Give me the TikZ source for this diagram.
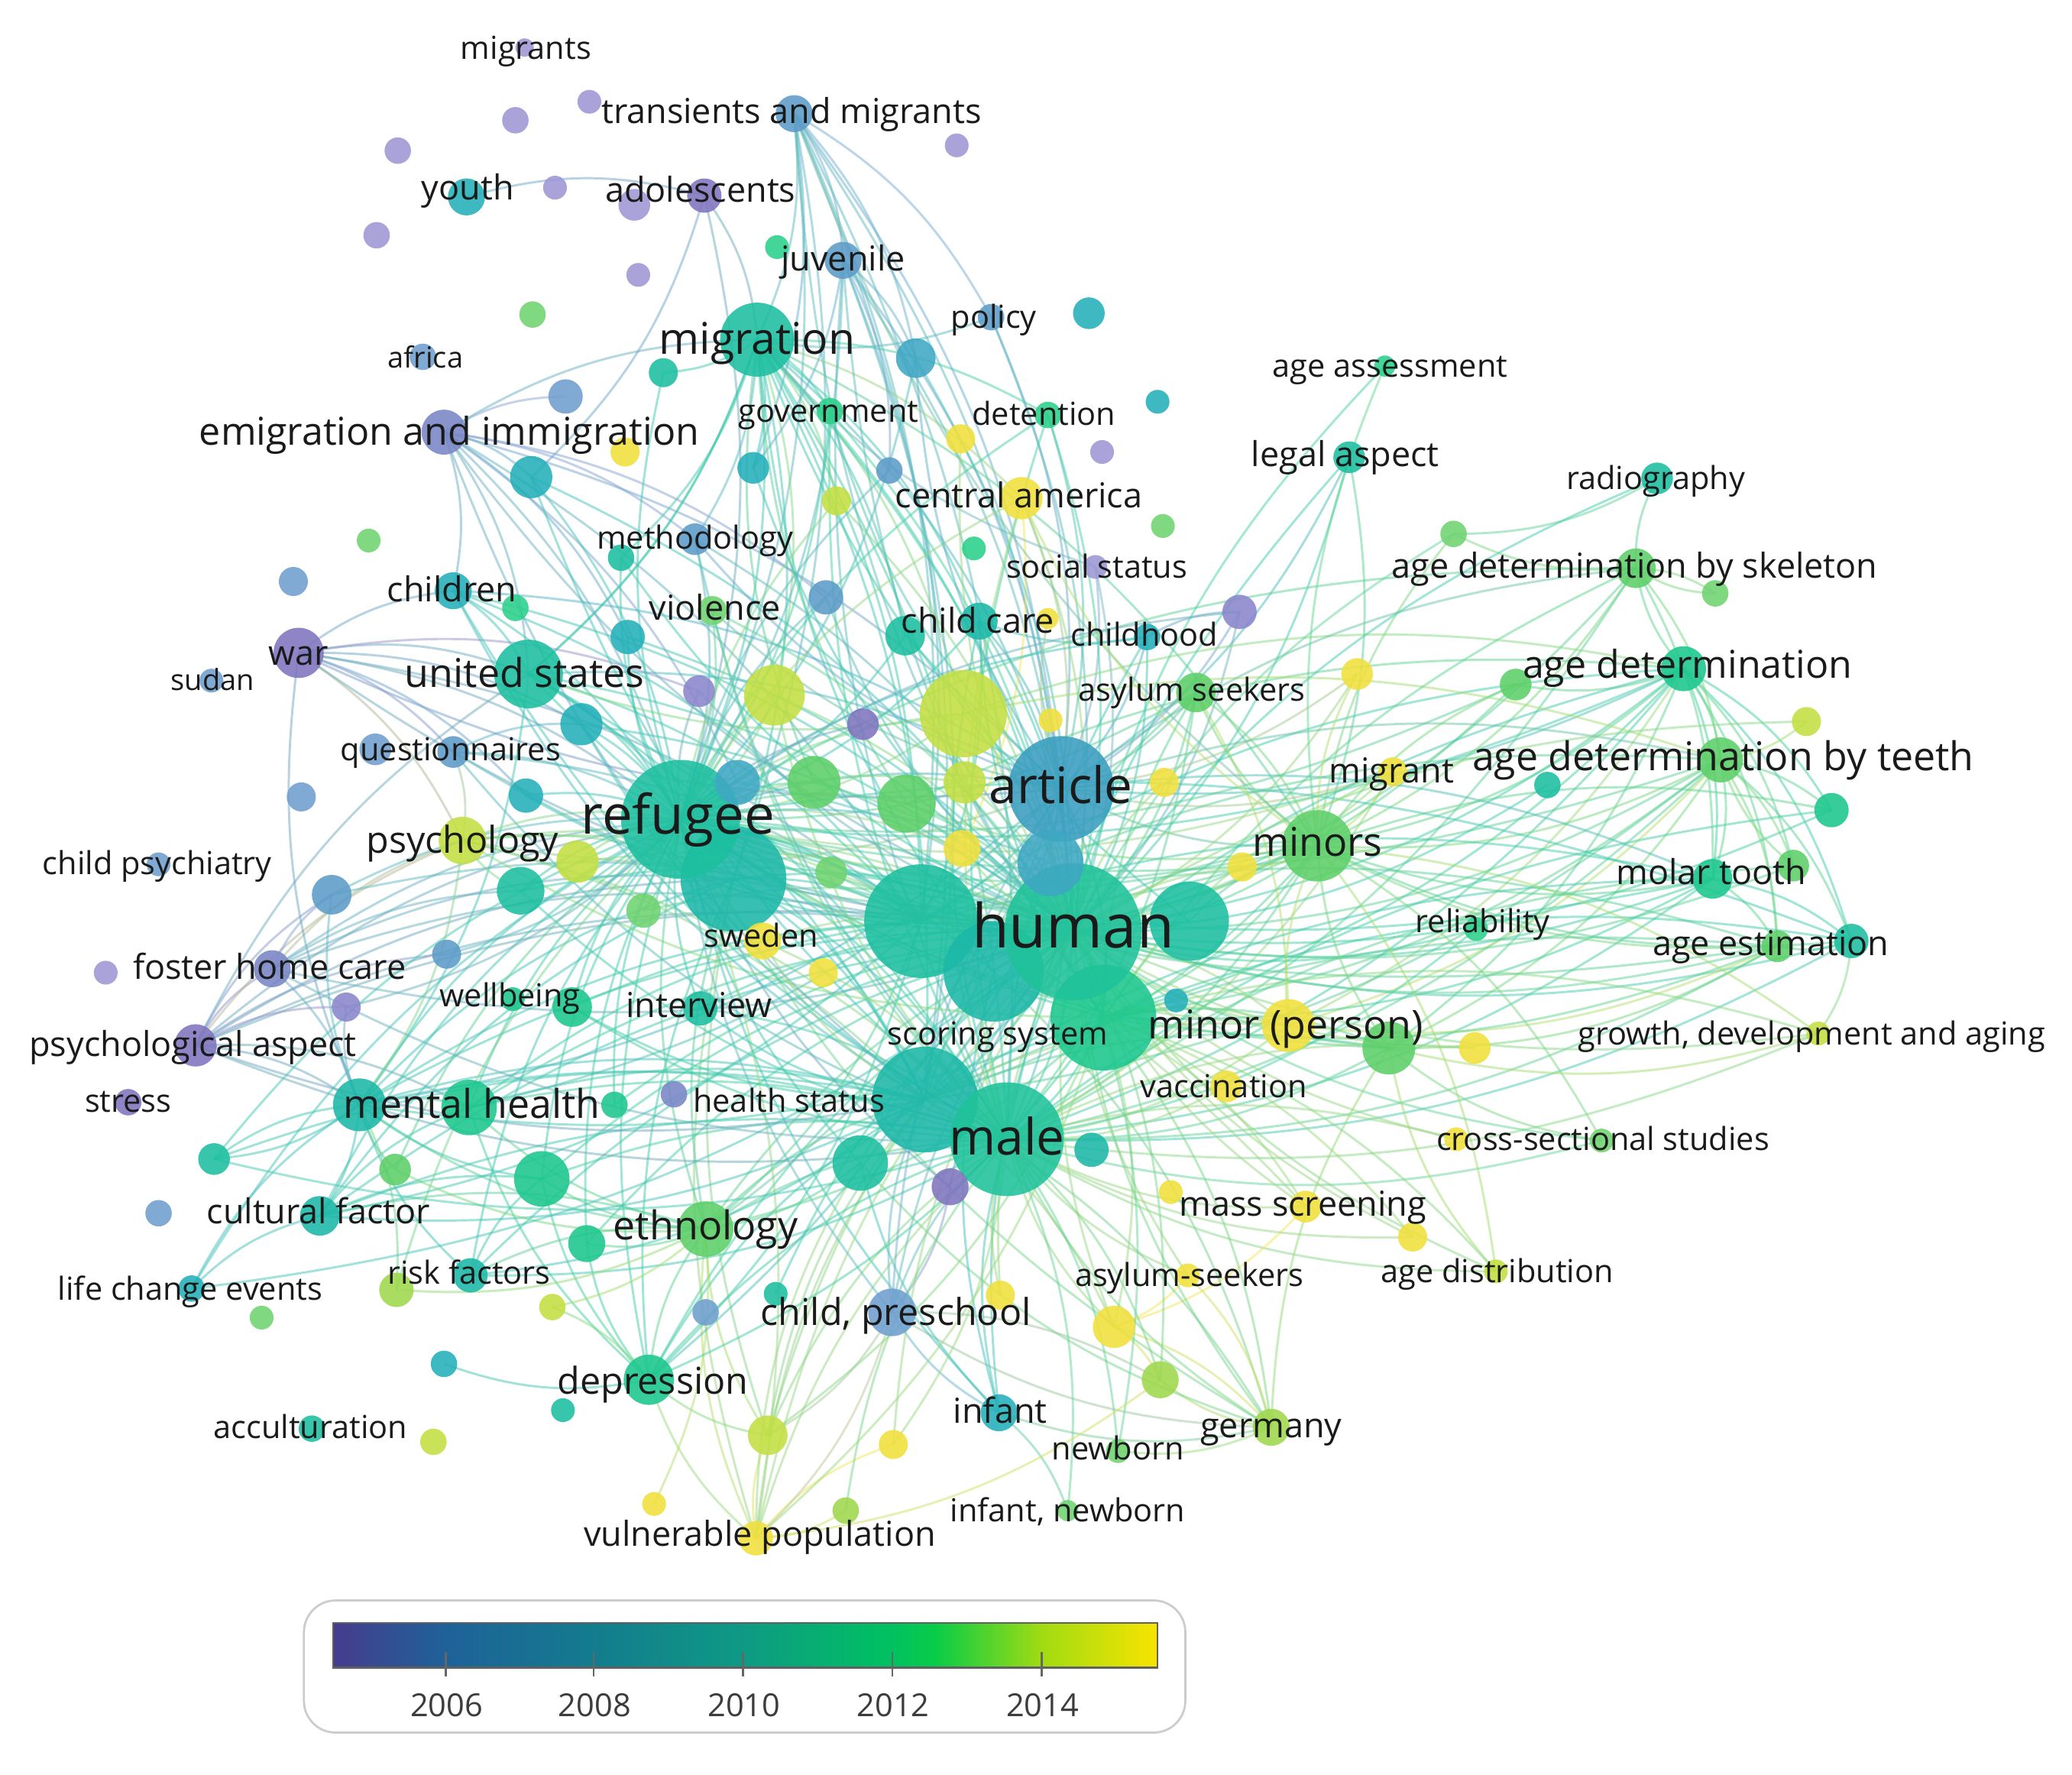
\documentclass[tikz,border=0pt]{standalone}
\usepackage{fontspec}
\setmainfont{Open Sans}
\pgfdeclarelayer{bg}
\pgfdeclarelayer{edges}
\pgfsetlayers{bg,edges,main}
\definecolor{lav}{HTML}{9E97D6}
\definecolor{lavb}{HTML}{8A86CC}
\definecolor{pur}{HTML}{8075BF}
\definecolor{pb}{HTML}{7A86C6}
\definecolor{blu}{HTML}{5D9BC8}
\definecolor{bls}{HTML}{6F9FCF}
\definecolor{blt}{HTML}{3FA7C3}
\definecolor{tea}{HTML}{24AFB9}
\definecolor{teb}{HTML}{1CB8A8}
\definecolor{tg}{HTML}{1CBFA0}
\definecolor{tgr}{HTML}{1CC78E}
\definecolor{grn}{HTML}{2BD08A}
\definecolor{mgr}{HTML}{5DCF68}
\definecolor{lgr}{HTML}{6FD370}
\definecolor{ygg}{HTML}{9ED84C}
\definecolor{ygr}{HTML}{C3DF42}
\definecolor{yel}{HTML}{F1E03C}
\definecolor{artc}{HTML}{3A9EC0}
\definecolor{humc}{HTML}{1FC29A}
\definecolor{txt}{HTML}{1A1A1A}
\definecolor{c0}{HTML}{463C8E}
\definecolor{c1}{HTML}{1E6298}
\definecolor{c2}{HTML}{137C8E}
\definecolor{c3}{HTML}{0E9A84}
\definecolor{c4}{HTML}{00C260}
\definecolor{c5}{HTML}{08CC48}
\definecolor{c6}{HTML}{A2DB12}
\definecolor{c7}{HTML}{F8E400}
\pgfdeclarehorizontalshading{vir}{100bp}{color(0bp)=(c0); color(25bp)=(c0); color(31.89bp)=(c1); color(40.87bp)=(c2); color(49.92bp)=(c3); color(58.97bp)=(c4); color(61.5bp)=(c5); color(68.03bp)=(c6); color(75bp)=(c7); color(100bp)=(c7)}
\tikzset{
  nd/.style={circle, inner sep=0pt, outer sep=0pt, draw=none, fill opacity=0.88},
  lbl/.style={text=txt, inner sep=0pt, text height=0.72em, text depth=0.2em},
  edge/.style={line width=1.7pt, opacity=0.5},
  tick/.style={draw=gray!80!black, line width=1.5pt},
  year/.style={text=txt!85, inner sep=0pt, font=\fontsize{24}{24}\selectfont},
}
\newcommand\N[5]{\node[nd,fill=#5,minimum size={2*#4}] (#1) at (#2,#3) {};\expandafter\gdef\csname nc@#1\endcsname{#5}}
\newcommand\Lb[5]{\node[lbl,font=\fontsize{#4}{#4}\selectfont,yshift={-0.25*#4}] (#1) at (#2,#3) {#5};}
\newcommand\Ed[3]{\edef\ecol{\csname nc@#1\endcsname!50!\csname nc@#2\endcsname}\colorlet{ec}{\ecol}\draw[edge,draw=ec!82!white] (#1.center) to[#3] (#2.center);}
\begin{document}
\begin{tikzpicture}[x=1pt,y=-1pt]
\begin{pgfonlayer}{bg}
\fill[white,use as bounding box] (0,0) rectangle (1568,1343);
\end{pgfonlayer}
% ---------- big nodes ----------
\N{ref2}{555}{665}{40}{teb}
\N{ref}{515}{620}{45}{tg}
\N{hum2}{697}{697}{43}{tg}
\N{hum3}{752}{735}{38}{teb}
\N{hum4}{900}{697}{30}{tg}
\N{hs}{700}{832}{40}{teb}
\N{sco}{835}{770}{40}{tgr}
\N{hum}{812}{705}{52}{humc}
\N{mal}{762}{862}{43}{humc}
\N{art}{803}{597}{40}{artc}
\N{t58}{795}{653}{25}{blt}
\N{t41}{729}{540}{33}{ygr}
\N{mig}{573}{257}{28}{tg}
\N{us}{400}{510}{26}{tg}
\N{min}{997}{640}{27}{mgr}
\N{t40}{586}{526}{23}{ygr}
\N{t49}{686}{608}{22}{mgr}
\N{t47}{616}{592}{20}{mgr}
% ---------- other nodes ----------
\N{mgs}{397}{36}{7}{lav}
\N{t1}{390}{91}{10}{lav}
\N{t2}{446}{77}{9}{lav}
\N{tam}{601}{86}{14}{blu}
\N{t3}{724}{110}{9}{lav}
\N{t4}{301}{114}{10}{lav}
\N{you}{353}{149}{14}{tea}
\N{t5}{420}{142}{9}{lav}
\N{t6}{480}{155}{12}{lav}
\N{ado}{533}{148}{13}{pur}
\N{t7}{285}{178}{10}{lav}
\N{t8}{483}{208}{9}{lav}
\N{t9}{588}{187}{9}{grn}
\N{juv}{638}{197}{14}{blu}
\N{t10}{403}{238}{10}{lgr}
\N{pol}{750}{240}{10}{blu}
\N{t11}{824}{237}{12}{tea}
\N{afr}{320}{270}{10}{bls}
\N{t12}{502}{282}{11}{tg}
\N{t13}{693}{271}{15}{blt}
\N{aas}{1048}{277}{8}{grn}
\N{t14}{428}{300}{13}{bls}
\N{emi}{336}{327}{17}{pb}
\N{gov}{628}{311}{10}{grn}
\N{det}{793}{314}{10}{grn}
\N{t15}{876}{304}{9}{tea}
\N{t16}{473}{342}{11}{yel}
\N{t17}{727}{332}{11}{yel}
\N{t18}{834}{342}{9}{lav}
\N{t19}{402}{361}{16}{tea}
\N{t20}{570}{354}{12}{tea}
\N{t21}{673}{356}{10}{blu}
\N{leg}{1021}{346}{12}{tg}
\N{rad}{1254}{362}{12}{tg}
\N{cam}{773}{377}{16}{yel}
\N{t22}{633}{379}{11}{ygr}
\N{t23}{279}{409}{9}{lgr}
\N{met}{526}{408}{12}{blu}
\N{t24}{470}{422}{10}{tg}
\N{t25}{880}{398}{9}{lgr}
\N{t26}{737}{415}{9}{grn}
\N{t27}{1100}{404}{10}{lgr}
\N{soc}{829}{429}{9}{lav}
\N{t28}{222}{440}{11}{bls}
\N{chi}{343}{447}{14}{tea}
\N{t29}{390}{460}{10}{grn}
\N{vio}{539}{462}{11}{lgr}
\N{t30}{475}{482}{13}{tea}
\N{t31}{625}{452}{13}{blu}
\N{ads}{1238}{430}{15}{mgr}
\N{t32}{1298}{449}{10}{lgr}
\N{cc}{741}{470}{14}{teb}
\N{t33}{685}{481}{15}{tg}
\N{t34}{793}{468}{8}{yel}
\N{chh}{868}{482}{10}{tea}
\N{t35}{938}{463}{13}{lavb}
\N{war}{226}{494}{19}{pur}
\N{sud}{160}{515}{9}{bls}
\N{asy}{905}{524}{15}{mgr}
\N{t36}{1027}{510}{12}{yel}
\N{ad}{1274}{506}{17}{tgr}
\N{t37}{1147}{518}{12}{mgr}
\N{t38}{1367}{546}{11}{ygr}
\N{t39}{529}{523}{12}{lavb}
\N{t42}{653}{548}{12}{pur}
\N{t43}{795}{545}{9}{yel}
\N{t44}{440}{548}{16}{tea}
\N{que}{343}{569}{12}{blu}
\N{t45}{284}{567}{12}{bls}
\N{t46}{558}{592}{17}{blt}
\N{t48}{730}{592}{16}{ygr}
\N{t50}{881}{592}{11}{yel}
\N{mgt}{1054}{584}{11}{yel}
\N{adt}{1302}{575}{17}{mgr}
\N{t51}{1171}{594}{10}{tg}
\N{t52}{1386}{613}{13}{tgr}
\N{t53}{228}{603}{11}{bls}
\N{t54}{398}{602}{13}{tea}
\N{psy}{350}{636}{18}{ygr}
\N{t55}{437}{652}{16}{ygr}
\N{t56}{728}{642}{14}{yel}
\N{t57}{629}{660}{12}{lgr}
\N{t59}{940}{656}{11}{yel}
\N{t60}{1357}{655}{12}{mgr}
\N{cps}{120}{654}{9}{bls}
\N{t61}{251}{677}{15}{blu}
\N{t62}{394}{674}{18}{tg}
\N{t63}{487}{689}{13}{lgr}
\N{mol}{1296}{665}{15}{tgr}
\N{rel}{1117}{703}{9}{grn}
\N{swe}{577}{712}{14}{yel}
\N{t64}{338}{722}{11}{blu}
\N{fhc}{206}{733}{14}{pb}
\N{t65}{80}{736}{9}{lav}
\N{age}{1345}{716}{12}{mgr}
\N{t66}{1401}{712}{13}{tg}
\N{t67}{623}{736}{11}{yel}
\N{t68}{388}{756}{9}{tgr}
\N{wel}{433}{762}{15}{tgr}
\N{t69}{262}{762}{11}{lavb}
\N{int}{530}{763}{13}{tg}
\N{t70}{890}{757}{9}{tea}
\N{mip}{975}{776}{20}{yel}
\N{t71}{1051}{793}{20}{mgr}
\N{t72}{1116}{793}{12}{yel}
\N{gda}{1376}{782}{9}{ygr}
\N{vac}{928}{822}{12}{yel}
\N{str}{97}{834}{10}{pur}
\N{psa}{148}{791}{16}{pur}
\N{mh}{272}{836}{20}{teb}
\N{mh2}{355}{838}{21}{tgr}
\N{t73}{465}{836}{10}{tgr}
\N{t74}{510}{828}{10}{pb}
\N{t75}{826}{870}{13}{teb}
\N{t76}{1102}{862}{9}{yel}
\N{css}{1212}{863}{9}{lgr}
\N{t77}{162}{877}{12}{tg}
\N{t78}{410}{892}{21}{tgr}
\N{t79}{299}{885}{12}{mgr}
\N{t80}{651}{880}{21}{tg}
\N{t81}{719}{898}{14}{pur}
\N{t82}{886}{902}{9}{yel}
\N{msc}{988}{913}{12}{yel}
\N{cf}{242}{920}{15}{teb}
\N{t83}{120}{918}{10}{bls}
\N{eth}{534}{930}{21}{mgr}
\N{t84}{444}{941}{14}{tgr}
\N{t85}{1069}{936}{11}{yel}
\N{adi}{1132}{962}{9}{ygr}
\N{rf}{356}{965}{13}{teb}
\N{t86}{300}{976}{13}{ygg}
\N{asy2}{899}{965}{9}{yel}
\N{t87}{843}{1004}{16}{yel}
\N{lce}{145}{975}{10}{tea}
\N{t88}{198}{997}{9}{lgr}
\N{t89}{418}{989}{10}{ygr}
\N{t90}{587}{979}{9}{tg}
\N{t91}{534}{993}{10}{bls}
\N{cpr}{675}{993}{18}{bls}
\N{t92}{757}{980}{11}{yel}
\N{t93}{336}{1032}{10}{tea}
\N{dep}{491}{1044}{19}{tgr}
\N{t94}{426}{1067}{9}{tg}
\N{t95}{878}{1044}{14}{ygg}
\N{inf}{756}{1069}{14}{tea}
\N{ger}{962}{1080}{14}{ygg}
\N{acc}{236}{1081}{10}{tg}
\N{t96}{328}{1091}{10}{ygr}
\N{t97}{581}{1086}{15}{ygr}
\N{t98}{676}{1093}{11}{yel}
\N{nb}{846}{1098}{9}{lgr}
\N{inb}{808}{1143}{8}{lgr}
\N{t99}{495}{1138}{9}{yel}
\N{t100}{640}{1143}{10}{ygg}
\N{vp}{572}{1164}{13}{yel}
% ---------- edges ----------
\begin{pgfonlayer}{edges}
\foreach \a/\b in {war/chi, war/us, war/t44, war/ref, war/que, war/t54, war/psy, war/hum2, war/t39,
emi/t19, emi/t14, emi/met, emi/ref, emi/hum2, emi/mig, emi/chi, emi/us, emi/t46, emi/art, emi/t31, emi/t30,
psa/fhc, psa/t61, psa/mh, psa/mh2, psa/ref, psa/hum2, psa/hum, psa/t64, psa/t69, psa/us, psa/psy, psa/ref2,
fhc/t61, fhc/mh, fhc/ref, fhc/hum2, fhc/t62, fhc/psy, fhc/ref2,
que/ref, que/t44, que/psy, que/hum2,
tam/mig, tam/juv, tam/ref, tam/hum, tam/art, tam/t20, tam/hum2, tam/mal, tam/hs, tam/t13, tam/pol, tam/ref2,
ado/mig, ado/ref, ado/t19, you/ado,
mig/ref, mig/hum, mig/hum2, mig/art, mig/gov, mig/det, mig/t20, mig/us, mig/mal, mig/hs, mig/t41, mig/t40, mig/cam, mig/t22, mig/sco, mig/t33, mig/cc, mig/met, mig/t24, mig/min, mig/ref2, mig/t12,
juv/t13, juv/ref, juv/art, juv/hum, juv/t21, juv/hum2, juv/t20, juv/hs,
pol/art, pol/hum, pol/mig,
ad/adt, ad/mol, ad/age, ad/t66, ad/t52, ad/min, ad/hum, ad/sco, ad/t37, ad/ads, ad/mip, ad/t71, ad/mal, ad/t60, ad/ref, ad/art,
adt/mol, adt/age, adt/t66, adt/t52, adt/min, adt/hum, adt/mal, adt/sco, adt/mip, adt/t71, adt/t60, adt/ref, adt/hs,
ads/rad, ads/t27, ads/adt, ads/mol, ads/min, ads/hum, ads/t32, ads/mal,
rad/t27, leg/hum, leg/min, leg/art,
mol/age, mol/t66, mol/min, mol/hum, mol/sco, mol/mal, mol/ref,
t66/age, t66/min, t66/hum, t66/gda, t66/mal,
age/t71, age/mip, age/min, age/hum, age/mal, age/sco, age/ref,
gda/t71, gda/hum, gda/mal,
css/hum, css/mal, css/t71,
adi/mal, adi/hum, adi/t71,
msc/hum, msc/mal, msc/t87,
asy2/mal, asy2/t87, asy2/hum,
t87/mal, t87/ger, t87/hum, t87/t95,
ger/mal, ger/hum, ger/t95, ger/inf, ger/cpr, ger/t71, ger/nb, ger/t80, ger/ref,
inf/cpr, inf/mal, inf/hum, inf/hum3, inf/t80, inf/ref,
vp/dep, vp/t97, vp/mal, vp/hum, vp/eth, vp/t80, vp/hs, vp/ref2, vp/t98,
t97/mal, t97/hum, t97/eth, t97/hs, t97/ref2, t97/dep,
dep/ref, dep/hum, dep/mal, dep/hs, dep/ref2, dep/eth, dep/t84, dep/mh2, dep/t78,
eth/ref, eth/hum, eth/mal, eth/hs, eth/mh2, eth/t78, eth/t84, eth/mh, eth/ref2,
mh/ref, mh/hum, mh/mal, mh/hs, mh/ref2, mh/mh2, mh/cf, mh/t77, mh/hum2,
mh2/ref, mh2/hum2, mh2/hum, mh2/mal, mh2/hs,
cf/ref, cf/hum, cf/t78, cf/ref2, cf/mh2, cf/eth, cf/mal,
rf/ref, rf/hum, rf/eth, rf/mh, rf/t78,
lce/mh, lce/cf, lce/ref,
t77/mh, t77/ref, t77/hs,
min/hum, min/art, min/ref, min/mal, min/hs, min/sco, min/hum2, min/t49, min/ref2,
asy/art, asy/hum, asy/ref, asy/mip, asy/mal,
mgt/hum, mgt/art, mgt/min, mgt/mal, mgt/ref,
chh/hum, chh/art, chh/t35, chh/cc, t35/art, t35/hum,
cam/art, cam/hum, cam/t56, soc/hum, soc/art, soc/mig,
cc/ref, cc/hum, cc/art, cc/hum2,
us/ref, us/hum, us/hum2, us/art, us/hs, us/mal, us/mh, us/ref2,
chi/ref, chi/hum2, chi/us, chi/art, chi/hum,
psy/ref, psy/hum2, psy/hum, psy/mal, psy/hs, psy/mh, psy/ref2,
ref/hum, ref/art, ref/mal, ref/hs, ref/hum2, ref/hum3, ref/sco, ref/t41, ref/t40,
ref2/hum2, ref2/hum, ref2/mal, ref2/hs,
art/hum, art/mal, art/hs, art/sco, art/hum2,
hum/mal, hum/hs, hum/sco, hum/mip,
cpr/mal, cpr/hum, cpr/hs, cpr/ref, cpr/art,
mip/mal, mip/hum, mip/ref,
vac/hum, vac/mal, t71/hum, t71/mal, t71/ref,
wel/ref, wel/hum, int/ref, int/hum, int/mal, swe/ref, swe/hum, swe/mal,
t78/ref, t78/hum, t78/mal, t80/hum, t80/ref, t62/ref, t62/hum, t44/ref, t44/hum,
gov/hum, gov/ref, det/hum, det/art, t19/ref, t19/hum, met/ref, met/hum, vio/ref, vio/hum,
t41/hum, t41/ref, t40/hum, t40/ref, t47/hum, t49/hum, t48/hum, rel/hum, rel/mal,
hs/mal, sco/mal, hum4/ref, t13/ref, t13/hum, t22/hum, t33/ref, t33/hum, t46/hum, t55/hum, t55/ref,
t63/hum, t61/ref, t61/hum2, t54/ref, t30/hum, t36/art, t36/hum, t37/hum, t37/ref, t51/hum, t52/hum,
t38/adt, t60/adt, t60/hum, t32/ads, t72/hum, t76/hum, t85/hum, t85/mal, t79/ref, t79/mh, t89/dep, t86/ref,
t81/cpr, t81/hum, t81/ref, t92/hum, t92/mal, t98/hum, t100/mal, t90/hum, t84/ref, t84/hum, t73/ref, t73/hum}{%
  \Ed{\a}{\b}{bend left=15}
}
\foreach \a/\b in {ad/t49, ad/t41, ad/hum2, ad/hs, adt/hum2, adt/art, adt/t41, ads/ref, ads/art, ads/sco, mol/hum2, mol/hs, mol/art, age/hum2, age/hs, t66/sco, t66/ref, gda/sco, gda/min, t52/min, t52/mal, t38/hum, t60/mal, t37/min, t27/min, t27/hum, rad/hum, aas/hum, aas/min, leg/mal,
min/mip, min/t71, min/asy, min/hum3, min/hum4, mip/sco, mip/hs, t71/sco, t71/hs, css/min, adi/min, adi/sco, msc/sco, msc/ref, t76/mal, t72/mal, t85/sco,
ger/sco, ger/hs, ger/hum3, ger/asy2, t95/mal, t95/hum, t95/cpr, t87/sco, t87/hs, nb/hum, nb/mal, inb/mal, inb/inf,
vp/cpr, vp/t95, vp/ref, vp/t100, vp/sco, t97/cpr, t97/sco, t98/mal, t99/eth, dep/sco, dep/hum2, dep/art, eth/sco, eth/hum2, eth/art, eth/t80, mh/art, mh/sco, mh/t78, mh2/art, cf/hs, cf/hum2, rf/mal, rf/hs, t86/eth, t86/mh, t79/eth, t89/eth, t93/dep, lce/hum, t77/mal,
psy/art, psy/sco, psy/t62, us/sco, us/mig, us/t41, chi/mal, chi/hs, emi/hum, emi/hs, war/mh, war/hum, war/art, que/hum, que/mal, fhc/hum, fhc/mal, psa/mal, psa/hs, t61/mh, t64/ref, t69/mh, t69/ref,
mig/hum3, mig/hum4, mig/t49, mig/t47, tam/sco, tam/min, juv/mal, juv/sco, gov/art, gov/mal, det/mal, det/ref, cam/mal, cam/ref, cam/min, t17/hum, t22/ref, t21/ref, t20/hum, met/mal, met/art, vio/mal, vio/art, t31/ref, t31/hum, cc/mal, cc/sco, chh/ref, chh/mal, t35/ref, asy/min, asy/hs, asy/sco, mgt/sco, t36/min, t50/hum, t43/hum, t34/art, t56/hum, t56/ref, t59/hum, t59/min, t57/hum, t63/ref, swe/hs, int/hs, wel/mal, wel/hs, t62/mal, t54/hum, t44/mal, t30/ref, t46/ref, t40/mal, t41/mal, t48/ref, t49/ref, t47/ref, t42/ref, t39/ref, t39/hum, t58/ref, t58/hum, t19/mal, t24/hum, t24/ref, t12/ref, t13/art}{%
  \Ed{\a}{\b}{bend right=15}
}
\end{pgfonlayer}
% ---------- labels ----------
\Lb{L1}{398}{36}{24}{migrants}
\Lb{L2}{599}{84}{26}{transients and migrants}
\Lb{L3}{354}{142}{26}{youth}
\Lb{L4}{530}{144}{26}{adolescents}
\Lb{L5}{638}{196}{26}{juvenile}
\Lb{L6}{573}{257}{33}{migration}
\Lb{L7}{752}{240}{24}{policy}
\Lb{L8}{322}{270}{22}{africa}
\Lb{L9}{1052}{277}{24}{age assessment}
\Lb{L10}{340}{327}{29}{emigration and immigration}
\Lb{L11}{627}{311}{24}{government}
\Lb{L12}{790}{313}{24}{detention}
\Lb{L13}{1018}{344}{26}{legal aspect}
\Lb{L14}{1253}{362}{24}{radiography}
\Lb{L15}{771}{375}{26}{central america}
\Lb{L16}{526}{407}{24}{methodology}
\Lb{L17}{830}{429}{24}{social status}
\Lb{L18}{342}{446}{26}{children}
\Lb{L19}{541}{460}{26}{violence}
\Lb{L20}{1237}{428}{26}{age determination by skeleton}
\Lb{L21}{740}{470}{26}{child care}
\Lb{L22}{866}{480}{24}{childhood}
\Lb{L23}{226}{494}{26}{war}
\Lb{L24}{161}{514}{22}{sudan}
\Lb{L25}{397}{510}{30}{united states}
\Lb{L26}{902}{522}{24}{asylum seekers}
\Lb{L27}{1277}{503}{29}{age determination}
\Lb{L28}{341}{567}{24}{questionnaires}
\Lb{L29}{803}{596}{38}{article}
\Lb{L30}{1053}{583}{26}{migrant}
\Lb{L31}{1304}{573}{30}{age determination by teeth}
\Lb{L32}{513}{618}{41}{refugee}
\Lb{L33}{350}{636}{28}{psychology}
\Lb{L34}{997}{638}{30}{minors}
\Lb{L35}{119}{653}{24}{child psychiatry}
\Lb{L36}{1295}{660}{26}{molar tooth}
\Lb{L37}{812}{703}{46}{human}
\Lb{L38}{1122}{697}{24}{reliability}
\Lb{L39}{576}{708}{24}{sweden}
\Lb{L40}{204}{732}{26}{foster home care}
\Lb{L41}{1340}{714}{26}{age estimation}
\Lb{L42}{386}{753}{24}{wellbeing}
\Lb{L43}{529}{761}{26}{interview}
\Lb{L44}{755}{782}{24}{scoring system}
\Lb{L45}{973}{776}{30}{minor (person)}
\Lb{L46}{146}{790}{26}{psychological aspect}
\Lb{L47}{1371}{782}{24}{growth, development and aging}
\Lb{L48}{926}{822}{24}{vaccination}
\Lb{L49}{97}{833}{24}{stress}
\Lb{L50}{357}{836}{30}{mental health}
\Lb{L51}{597}{833}{24}{health status}
\Lb{L52}{762}{862}{38}{male}
\Lb{L53}{1213}{862}{24}{cross-sectional studies}
\Lb{L54}{986}{911}{26}{mass screening}
\Lb{L55}{241}{917}{26}{cultural factor}
\Lb{L56}{534}{928}{30}{ethnology}
\Lb{L57}{1133}{962}{24}{age distribution}
\Lb{L58}{355}{963}{24}{risk factors}
\Lb{L59}{900}{965}{24}{asylum-seekers}
\Lb{L60}{144}{975}{24}{life change events}
\Lb{L61}{678}{993}{28}{child, preschool}
\Lb{L62}{494}{1045}{28}{depression}
\Lb{L63}{757}{1068}{26}{infant}
\Lb{L64}{962}{1079}{26}{germany}
\Lb{L65}{235}{1080}{24}{acculturation}
\Lb{L66}{846}{1096}{24}{newborn}
\Lb{L67}{808}{1143}{24}{infant, newborn}
\Lb{L68}{575}{1161}{26}{vulnerable population}
% ---------- legend ----------
\node[draw=gray!40, line width=1.6pt, rounded corners=24pt, minimum width=667, minimum height=100, inner sep=0pt, fill=white] (lgbox) at (563.5,1261) {};
\node[shade, shading=vir, draw=gray!75!black, line width=1.5pt, minimum width=624, minimum height=34, inner sep=0pt] (bar) at (564,1245) {};
\foreach \dx/\yr in {86/2006, 198/2008, 311/2010, 424/2012, 537/2014}{
  \draw[tick] (bar.south west) ++(\dx,-13) -- ++(0,19);
  \node[year] (y\yr) at (252+\dx,1290) {\yr};
}
\end{tikzpicture}
\end{document}
